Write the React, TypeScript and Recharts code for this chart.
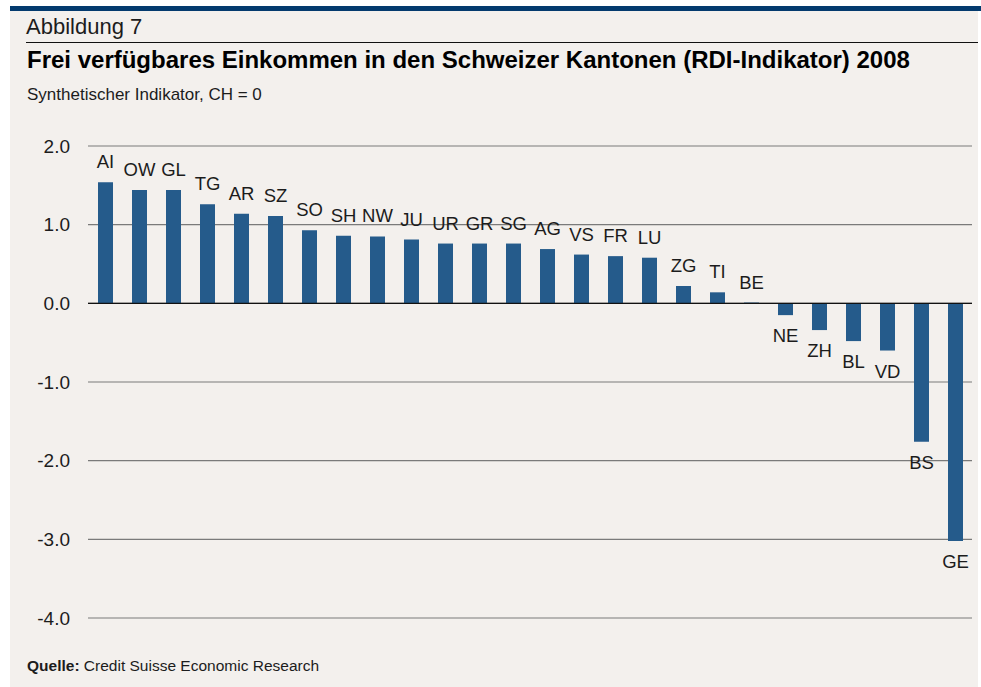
import React from 'react';
import { BarChart, Bar, XAxis, YAxis, CartesianGrid, ReferenceLine, LabelList } from 'recharts';

const cantons = ['AI', 'OW', 'GL', 'TG', 'AR', 'SZ', 'SO', 'SH', 'NW', 'JU', 'UR', 'GR', 'SG', 'AG', 'VS', 'FR', 'LU', 'ZG', 'TI', 'BE', 'NE', 'ZH', 'BL', 'VD', 'BS', 'GE'];
const rdiValues = [1.54, 1.44, 1.44, 1.26, 1.14, 1.11, 0.93, 0.86, 0.85, 0.81, 0.76, 0.76, 0.76, 0.69, 0.62, 0.6, 0.58, 0.22, 0.14, 0.01, -0.15, -0.34, -0.48, -0.6, -1.76, -3.02];
const yTicks = [2, 1, 0, -1, -2, -3, -4];

const data = cantons.map((c, i) => ({ canton: c, value: rdiValues[i] }));

const FONT = '"Liberation Sans", Arial, sans-serif';
const BG = '#f3f0ed';
const BAR = '#255b8b';
const INK = '#1c1c1c';

// canton label above positive bars, below negative ones
const CantonLabel = (props: any) => {
  const { x, y, width, height, value } = props;
  const a = Number(y);
  const b = Number(y) + Number(height);
  const cx = Number(x) + Number(width) / 2;
  const neg = rdiValues[cantons.indexOf(value)] < 0;
  const ty = neg ? Math.max(a, b) + 27 : Math.min(a, b) - 14;
  return (
    <text x={cx} y={ty} textAnchor="middle" fontSize={18.5} fontFamily={FONT} fill={INK}>
      {value}
    </text>
  );
};

export default function App() {
  return (
    <div style={{ position: 'absolute', left: 0, top: 0, width: 981, height: 687, background: '#fff', fontFamily: FONT, overflow: 'hidden' }}>
      <div style={{ position: 'absolute', left: 10, top: 10, width: 968, height: 677, background: BG }} />
      <div style={{ position: 'absolute', left: 10, top: 6, width: 971, height: 5, background: '#033a6e' }} />
      <div style={{ position: 'absolute', left: 26, top: 13, fontSize: 22, color: INK, lineHeight: '28px' }}>Abbildung 7</div>
      <div style={{ position: 'absolute', left: 26, top: 42, width: 952, height: 1, background: '#111' }} />
      <div style={{ position: 'absolute', left: 27, top: 46, fontSize: 24, fontWeight: 700, color: '#000', lineHeight: '28px', whiteSpace: 'nowrap' }}>
        Frei verfügbares Einkommen in den Schweizer Kantonen (RDI-Indikator) 2008
      </div>
      <div style={{ position: 'absolute', left: 27, top: 85, fontSize: 17, color: INK, lineHeight: '20px' }}>
        Synthetischer Indikator, CH = 0
      </div>
      <div style={{ position: 'absolute', left: 27, top: 657, fontSize: 15.5, color: INK, lineHeight: '18px' }}>
        <b>Quelle:</b> Credit Suisse Economic Research
      </div>
      <div style={{ position: 'absolute', left: 0, top: 0 }}>
        <BarChart width={981} height={687} data={data} margin={{ top: 146, right: 9, bottom: 69, left: 28 }}>
          <CartesianGrid vertical={false} stroke="#7a7a7a" strokeWidth={1.2} />
          <XAxis dataKey="canton" hide />
          <YAxis
            width={60}
            domain={[-4, 2]}
            ticks={yTicks}
            interval={0}
            axisLine={false}
            tickLine={false}
            tickSize={0}
            tickMargin={18}
            tickFormatter={(v: number) => v.toFixed(1)}
            tick={{ fill: INK, fontSize: 19, fontFamily: FONT }}
          />
          <ReferenceLine y={0} stroke="#111" strokeWidth={1.3} />
          <Bar dataKey="value" fill={BAR} barSize={15} isAnimationActive={false}>
            <LabelList dataKey="canton" content={<CantonLabel />} />
          </Bar>
        </BarChart>
      </div>
    </div>
  );
}
